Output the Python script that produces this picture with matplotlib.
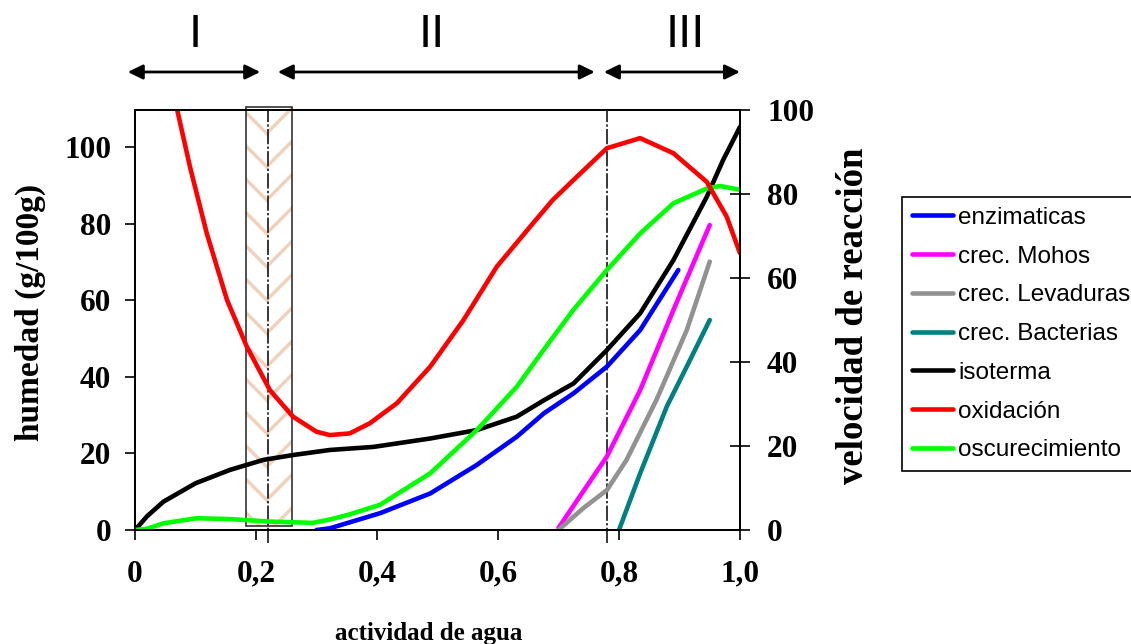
import matplotlib
matplotlib.use("Agg")
import matplotlib.pyplot as plt
from matplotlib.patches import Rectangle
from matplotlib.transforms import blended_transform_factory

plt.rcParams["font.family"] = ["Liberation Serif", "DejaVu Serif"]
plt.rcParams["font.weight"] = "bold"
plt.rcParams["hatch.linewidth"] = 2.5

# isoterma de sorcion (eje izquierdo, humedad g/100g)
aw_iso = [0, 0.02, 0.047, 0.1, 0.157, 0.212, 0.262, 0.322, 0.394, 0.488,
          0.565, 0.631, 0.675, 0.725, 0.78, 0.835, 0.89, 0.945, 0.972, 1.0]
hum_iso = [0, 3.6, 7.4, 12.2, 15.7, 18.3, 19.6, 20.9, 21.7, 23.9,
           26.1, 29.6, 33.8, 38.3, 47.0, 56.6, 70.5, 87.0, 96.6, 105.3]

# velocidades de reaccion (eje derecho)
aw_ox = [0.069, 0.091, 0.1185, 0.152, 0.185, 0.223, 0.261, 0.300, 0.322,
         0.355, 0.388, 0.433, 0.488, 0.543, 0.598, 0.653, 0.69, 0.7245,
         0.78, 0.835, 0.89, 0.945, 0.978, 1.0]
oxidacion = [100.5, 86.4, 70.7, 54.8, 43.6, 33.3, 27.0, 23.4, 22.6,
             23.0, 25.4, 30.2, 38.9, 50.0, 62.7, 72.2, 78.5, 83.3,
             90.9, 93.3, 89.7, 82.9, 74.6, 65.9]

aw_osc = [0, 0.02, 0.047, 0.102, 0.157, 0.223, 0.294, 0.322, 0.352, 0.405,
          0.488, 0.565, 0.631, 0.676, 0.7245, 0.78, 0.835, 0.89, 0.945,
          0.967, 1.0]
oscurecimiento = [0, 0.3, 1.6, 2.8, 2.6, 2.0, 1.7, 2.5, 3.6, 6.0,
                  13.5, 23.8, 34.1, 43.0, 52.4, 61.9, 70.6, 77.8, 81.3,
                  81.9, 81.0]

aw_enz = [0.30, 0.322, 0.405, 0.488, 0.565, 0.631, 0.676, 0.7245, 0.78,
          0.835, 0.898]
enzimaticas = [0, 0.4, 4.0, 8.7, 15.5, 22.2, 27.8, 32.5, 38.9, 47.6, 61.9]

aw_moh = [0.70, 0.78, 0.835, 0.89, 0.95]
mohos = [0.5, 17.5, 33.3, 52.4, 72.6]

aw_lev = [0.70, 0.741, 0.78, 0.8125, 0.862, 0.912, 0.95]
levaduras = [0, 5.2, 9.5, 16.7, 31.0, 47.6, 63.9]

aw_bac = [0.80, 0.835, 0.879, 0.912, 0.95]
bacterias = [0, 13.5, 29.4, 38.9, 50.0]

x_ticks = [0, 0.2, 0.4, 0.6, 0.8, 1.0]
x_tick_labels = ["0", "0,2", "0,4", "0,6", "0,8", "1,0"]
y_ticks = [0, 20, 40, 60, 80, 100]

# zonas I, II, III
zone_names = ["I", "II", "III"]
zone_spans = [(-0.012, 0.207), (0.236, 0.76), (0.775, 1.0)]
zone_label_x = [0.1, 0.49, 0.91]
zone_limits = [0.22, 0.78]
monolayer_band = (0.184, 0.259)

fig = plt.figure(figsize=(11.31, 6.44), dpi=100)
ax = fig.add_axes([135 / 1131, 1 - 530 / 644, 605 / 1131, 420 / 644])
ax2 = ax.twinx()

lw = 3.3
l_iso, = ax.plot(aw_iso, hum_iso, color="black", lw=lw, solid_capstyle="round")
l_enz, = ax2.plot(aw_enz, enzimaticas, color="#0000ff", lw=lw, solid_capstyle="round")
l_moh, = ax2.plot(aw_moh, mohos, color="#ff00ff", lw=lw, solid_capstyle="round")
l_lev, = ax2.plot(aw_lev, levaduras, color="#929292", lw=lw, solid_capstyle="round")
l_bac, = ax2.plot(aw_bac, bacterias, color="#008080", lw=lw, solid_capstyle="round")
l_osc, = ax2.plot(aw_osc, oscurecimiento, color="#00ff00", lw=lw, solid_capstyle="round")
l_ox, = ax2.plot(aw_ox, oxidacion, color="#ff0000", lw=lw, solid_capstyle="round")

# banda rayada de la monocapa
x0, x1 = monolayer_band
xm = (x0 + x1) / 2
ax.add_patch(Rectangle((x0, 1), xm - x0, 109.4, facecolor="none",
                       edgecolor="#f0d2bc", lw=0, hatch="\\", clip_on=False, zorder=1))
ax.add_patch(Rectangle((xm, 1), x1 - xm, 109.4, facecolor="none",
                       edgecolor="#f0d2bc", lw=0, hatch="/", clip_on=False, zorder=1))
ax.add_patch(Rectangle((x0, 1), x1 - x0, 109.4, fill=False,
                       edgecolor="#333333", lw=1.2, clip_on=False, zorder=1.5))

for xv in zone_limits:
    ax.axvline(xv, ymin=-0.03, ymax=1, color="black", lw=1.1,
               linestyle=(0, (10, 1.5, 1.5, 1.5)), clip_on=False, zorder=1.6)

# flechas y numeros romanos
trans = blended_transform_factory(ax.transData, ax.transAxes)
for (a, b), name, xl in zip(zone_spans, zone_names, zone_label_x):
    ax.annotate("", xy=(b, 1.0905), xytext=(a, 1.0905), xycoords=trans,
                textcoords=trans, annotation_clip=False,
                arrowprops=dict(arrowstyle="<|-|>,head_length=0.45,head_width=0.22",
                                color="black", lw=2, mutation_scale=20,
                                shrinkA=0, shrinkB=0))
    ax.text(xl, 1.1786, name, transform=trans, ha="center", va="center",
            fontsize=34, fontweight="normal", family="Liberation Sans")

ax.set_xlim(0, 1)
ax.set_ylim(0, 109.7)
ax2.set_ylim(0, 100)

ax.set_xticks(x_ticks)
ax.set_xticklabels(x_tick_labels)
ax.set_yticks(y_ticks)
ax2.set_yticks(y_ticks)

ax.tick_params(axis="x", direction="out", length=7.5, width=1.2, pad=14, labelsize=22.5)
ax.tick_params(axis="y", direction="out", length=7, width=1.2, pad=10, labelsize=22.5)
ax2.tick_params(axis="y", direction="inout", length=15, width=1.2, pad=12, labelsize=22.5)

for a in (ax, ax2):
    for s in a.spines.values():
        s.set_linewidth(1.3)
        s.set_color("black")

ax.set_xlabel("actividad de agua", fontsize=18, fontweight="bold", va="baseline")
ax.xaxis.set_label_coords(0.486, -0.262)
ax.set_ylabel("humedad (g/100g)", fontsize=24, fontweight="bold", va="center")
ax.yaxis.set_label_coords(-0.1736, 0.517)
ax2.set_ylabel("velocidad de reacción", fontsize=26.5, fontweight="bold",
               va="center", rotation=90)
ax2.yaxis.set_label_coords(1.188, 0.51)

handles = [l_enz, l_moh, l_lev, l_bac, l_iso, l_ox, l_osc]
labels = ["enzimaticas", "crec. Mohos", "crec. Levaduras", "crec. Bacterias",
          "isoterma", "oxidación", "oscurecimiento"]
leg = ax2.legend(handles, labels, loc="upper left",
                 bbox_to_anchor=(902 / 1131, 1 - 197 / 644),
                 bbox_transform=fig.transFigure, borderaxespad=0,
                 fancybox=False, edgecolor="black", framealpha=1,
                 handlelength=1.7, handletextpad=0.2, labelspacing=0.69,
                 borderpad=0.4,
                 prop=dict(family="Liberation Sans", size=17.5, weight="normal"))
leg.get_frame().set_linewidth(1.2)

fig.savefig("out.png", dpi=100)
